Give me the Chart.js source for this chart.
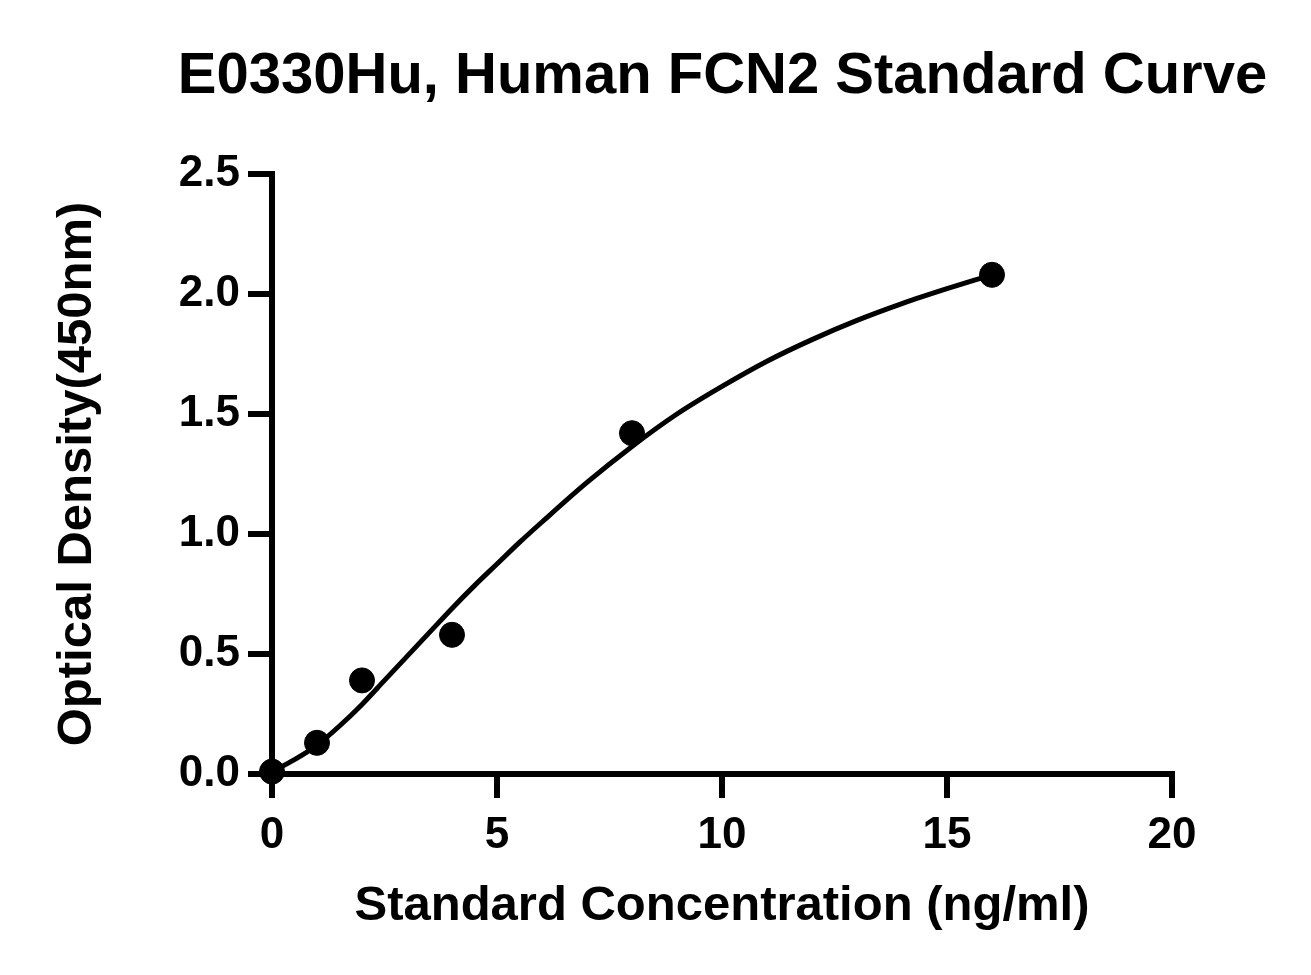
<!DOCTYPE html>
<html>
<head>
<meta charset="utf-8">
<title>E0330Hu, Human FCN2 Standard Curve</title>
<script src="https://cdn.jsdelivr.net/npm/chart.js@4.4.1/dist/chart.umd.min.js"></script>
<style>
  html, body { margin: 0; padding: 0; background: #fff; }
  #wrap { width: 1311px; height: 975px; }
</style>
</head>
<body>
<div id="wrap"><canvas id="myChart" width="1311" height="975"></canvas></div>
<script>
// measured standards
var standardConc = [0, 1, 2, 4, 8, 16];
var opticalDensity = [0.01, 0.13, 0.39, 0.58, 1.42, 2.08];

// fitted curve
var curveConc = [0, 0.5, 1, 1.5, 2, 2.5, 3, 3.5, 4, 4.5, 5, 5.5, 6, 7, 8, 9, 10, 11, 12, 13, 14, 15, 16];
var curveOD = [0.01, 0.06, 0.12, 0.20, 0.29, 0.39, 0.49, 0.59, 0.69, 0.785, 0.875, 0.965, 1.05, 1.215, 1.365, 1.50, 1.615, 1.72, 1.81, 1.89, 1.96, 2.022, 2.08];

var xTicks = [0, 5, 10, 15, 20];
var yTicks = [0, 0.5, 1.0, 1.5, 2.0, 2.5];

var FONT = '"Liberation Sans", Arial, sans-serif';

function pairs(xs, ys) {
    return xs.map(function (x, i) { return { x: x, y: ys[i] }; });
}

var ctx = document.getElementById('myChart').getContext('2d');
var chart = new Chart(ctx, {
    type: 'scatter',
    data: {
        datasets: [{
            label: 'Standard',
            data: pairs(standardConc, opticalDensity),
            backgroundColor: '#000',
            borderColor: '#000',
            pointRadius: 12.5,
            pointHoverRadius: 12.5,
            showLine: false,
            clip: false,
            order: 1
        },
        {
            label: 'Fit',
            data: pairs(curveConc, curveOD),
            borderColor: '#000',
            borderWidth: 5,
            pointRadius: 0,
            showLine: true,
            cubicInterpolationMode: 'monotone',
            fill: false,
            clip: false,
            order: 2
        }]
    },
    options: {
        responsive: false,
        animation: false,
        devicePixelRatio: 1,
        // left padding shifts the full-width title so it sits where the original does
        layout: { padding: { left: 134, right: 0, top: 0, bottom: 0 } },
        plugins: {
            legend: { display: false },
            tooltip: { enabled: false },
            title: {
                display: true,
                text: 'E0330Hu, Human FCN2 Standard Curve',
                color: '#000',
                font: { family: FONT, size: 58, weight: 'bold', lineHeight: 1.2 },
                padding: { top: 42.5, bottom: 61.9 }
            }
        },
        scales: {
            x: {
                type: 'linear',
                min: 0,
                max: 20,
                afterFit: function (scale) { scale.height = 201; },
                afterBuildTicks: function (scale) {
                    scale.ticks = xTicks.map(function (v) { return { value: v }; });
                },
                border: { display: true, color: '#000', width: 6 },
                grid: { drawOnChartArea: false, drawTicks: true, tickLength: 24, color: '#000', lineWidth: 6 },
                ticks: {
                    color: '#000',
                    padding: 11,
                    maxRotation: 0,
                    font: { family: FONT, size: 44, weight: 'bold' },
                    callback: function (v) { return v; }
                },
                title: {
                    display: true,
                    text: 'Standard Concentration (ng/ml)',
                    color: '#000',
                    font: { family: FONT, size: 49, weight: 'bold', lineHeight: 1.2 },
                    padding: { top: 0, bottom: 39 }
                }
            },
            y: {
                type: 'linear',
                min: 0,
                max: 2.5,
                afterFit: function (scale) { scale.width = 138; },
                afterBuildTicks: function (scale) {
                    scale.ticks = yTicks.map(function (v) { return { value: v }; });
                },
                border: { display: true, color: '#000', width: 6 },
                grid: { drawOnChartArea: false, drawTicks: true, tickLength: 24, color: '#000', lineWidth: 6 },
                ticks: {
                    color: '#000',
                    padding: 8,
                    font: { family: FONT, size: 44, weight: 'bold' },
                    callback: function (v) { return v.toFixed(1); }
                },
                title: {
                    display: true,
                    text: 'Optical Density(450nm)',
                    color: '#000',
                    font: { family: FONT, size: 49, weight: 'bold', lineHeight: 1.2 },
                    padding: { top: -86.4, bottom: 0 }
                }
            },
            // empty axis that only reserves the white margin on the right
            yRight: {
                type: 'linear',
                position: 'right',
                afterFit: function (scale) { scale.width = 139; },
                border: { display: false },
                grid: { display: false },
                ticks: { display: false }
            }
        }
    }
});
</script>
</body>
</html>
